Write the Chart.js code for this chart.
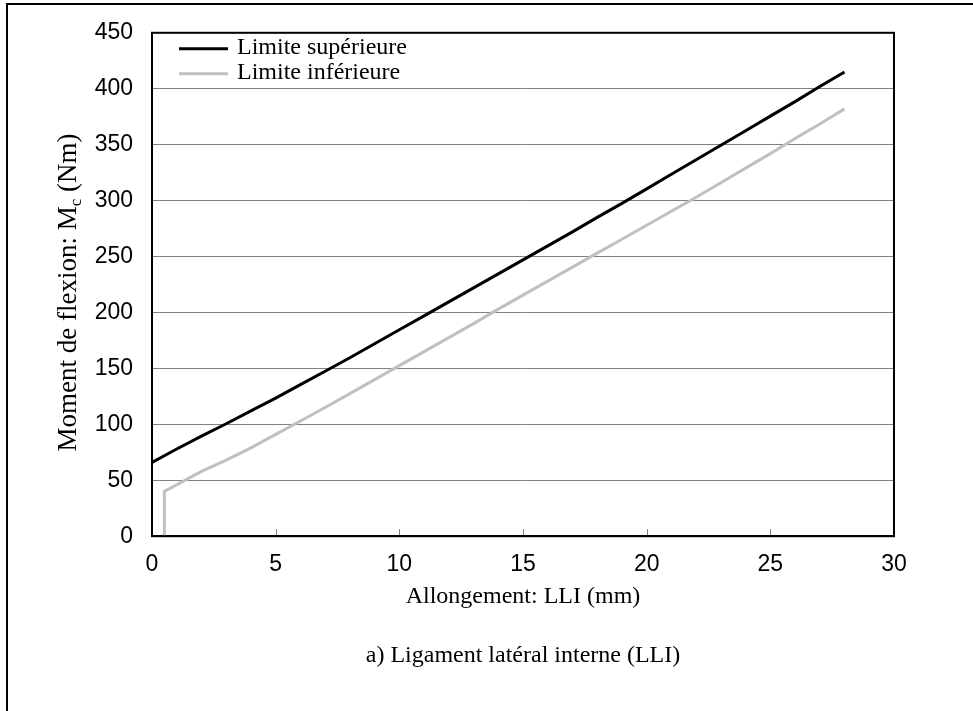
<!DOCTYPE html>
<html>
<head>
<meta charset="utf-8">
<script src="https://cdn.jsdelivr.net/npm/chart.js"></script>
<style>
  html, body { margin: 0; padding: 0; background: #fff; overflow: hidden; }
  #wrap { position: relative; width: 973px; height: 711px; overflow: hidden; }
  #frame { position: absolute; left: 6px; top: 3px; width: 2000px; height: 2000px; border: 2px solid #000; box-sizing: border-box; }
  canvas { position: absolute; left: 0; top: 0; }
</style>
</head>
<body>
<div id="wrap">
  <div id="frame"></div>
  <canvas id="chart" width="973" height="711"></canvas>
</div>
<script>
// values
const upperX = [0, 1, 2, 3, 4, 5, 6, 7, 8, 9, 10, 11, 12, 13, 14, 15, 16, 17, 18, 19, 20, 21, 22, 23, 24, 25, 26, 27, 28];
const upperY = [66, 78, 89.5, 100.5, 112, 123.5, 135.5, 147.5, 159.5, 172, 184.5, 197, 209.5, 222, 234.5, 247, 259.5, 272, 285, 297.5, 310.5, 323.5, 336.5, 349.5, 362.5, 375.5, 388.5, 402, 415];

const lowerX = [0.5, 0.5, 1, 2, 3, 4, 5, 6, 7, 8, 9, 10, 11, 12, 13, 14, 15, 16, 17, 18, 19, 20, 21, 22, 23, 24, 25, 26, 27, 28];
const lowerY = [0, 40, 46, 58, 68, 79, 91, 103, 115, 127.5, 140, 152.5, 165, 177.5, 190, 203, 215.5, 228, 240.5, 253, 265.5, 278, 290.5, 303, 316, 329, 342, 355.5, 368.5, 382];

const seriesNames = ["Limite supérieure", "Limite inférieure"];
const xTickValues = [0, 5, 10, 15, 20, 25, 30];
const yTickValues = [0, 50, 100, 150, 200, 250, 300, 350, 400, 450];

const xTitle = "Allongement: LLI (mm)";
const yTitleParts = ["Moment de flexion: M", "c", " (Nm)"];
const caption = "a) Ligament latéral interne (LLI)";

const SANS = "'Liberation Sans', Arial, sans-serif";
const SERIF = "'Liberation Serif', 'Times New Roman', serif";

const toPoints = (xs, ys) => xs.map((x, i) => ({x: x, y: ys[i]}));

// plot box, inner x ticks, y-axis title (with subscript) and legend
const decorPlugin = {
    id: "decor",
    afterDraw(chart) {
        const {ctx, chartArea: a, scales: {x}} = chart;
        ctx.save();

        ctx.strokeStyle = "#808080";
        ctx.lineWidth = 1;
        x.ticks.forEach((t) => {
            const px = Math.round(x.getPixelForValue(t.value)) + 0.5;
            ctx.beginPath();
            ctx.moveTo(px, a.bottom);
            ctx.lineTo(px, a.bottom - 7);
            ctx.stroke();
        });

        ctx.strokeStyle = "#000";
        ctx.lineWidth = 2;
        ctx.strokeRect(a.left, a.top, a.right - a.left, a.bottom - a.top);

        // y title
        ctx.fillStyle = "#000";
        ctx.translate(76, (a.top + a.bottom) / 2 + 8);
        ctx.rotate(-Math.PI / 2);
        ctx.textBaseline = "alphabetic";
        const big = "27px " + SERIF;
        const small = "17px " + SERIF;
        ctx.font = big;
        const w1 = ctx.measureText(yTitleParts[0]).width;
        const w3 = ctx.measureText(yTitleParts[2]).width;
        ctx.font = small;
        const w2 = ctx.measureText(yTitleParts[1]).width;
        let cx = -(w1 + w2 + w3) / 2;
        ctx.font = big;
        ctx.fillText(yTitleParts[0], cx, 0);
        cx += w1;
        ctx.font = small;
        ctx.fillText(yTitleParts[1], cx, 5);
        cx += w2;
        ctx.font = big;
        ctx.fillText(yTitleParts[2], cx, 0);
        ctx.restore();

        // legend
        ctx.save();
        ctx.font = "24px " + SERIF;
        ctx.textBaseline = "middle";
        ctx.fillStyle = "#000";
        chart.data.datasets.forEach((ds, i) => {
            const cy = a.top + 16 + i * 25;
            ctx.strokeStyle = ds.borderColor;
            ctx.lineWidth = 3;
            ctx.beginPath();
            ctx.moveTo(a.left + 27, cy);
            ctx.lineTo(a.left + 76, cy);
            ctx.stroke();
            ctx.fillText(ds.label, a.left + 85, cy - 1);
        });
        ctx.restore();
    },
};

const ctx = document.getElementById("chart").getContext("2d");

new Chart(ctx, {
    type: "line",
    data: {
        datasets: [
            {
                label: seriesNames[0],
                data: toPoints(upperX, upperY),
                borderColor: "#000000",
                borderWidth: 3,
                pointRadius: 0,
                tension: 0,
                fill: false,
            },
            {
                label: seriesNames[1],
                data: toPoints(lowerX, lowerY),
                borderColor: "#c0c0c0",
                borderWidth: 3,
                pointRadius: 0,
                tension: 0,
                fill: false,
            },
        ],
    },
    options: {
        responsive: false,
        animation: false,
        events: [],
        layout: {padding: {left: 0, right: 79, top: 31, bottom: 0}},
        plugins: {
            legend: {display: false},
            tooltip: {enabled: false},
            title: {
                display: true,
                position: "bottom",
                fullSize: false,
                text: caption,
                color: "#000",
                font: {family: SERIF, size: 24, weight: "normal", lineHeight: 1.2},
                padding: {top: 0, bottom: 41},
            },
        },
        scales: {
            x: {
                type: "linear",
                min: 0,
                max: 30,
                afterBuildTicks: (s) => {
                    s.ticks = xTickValues.map((v) => ({value: v}));
                },
                afterFit: (s) => {
                    s.height = 105;
                },
                grid: {drawOnChartArea: false, drawTicks: false},
                border: {color: "#000", width: 2},
                ticks: {color: "#000", font: {family: SANS, size: 23}, padding: 15, maxRotation: 0},
                title: {
                    display: true,
                    text: xTitle,
                    color: "#000",
                    font: {family: SERIF, size: 24, lineHeight: 1.2},
                    padding: {top: 0, bottom: 30},
                },
            },
            y: {
                min: 0,
                max: 450,
                afterBuildTicks: (s) => {
                    s.ticks = yTickValues.map((v) => ({value: v}));
                },
                afterFit: (s) => {
                    s.width = 152;
                },
                grid: {color: "#808080", lineWidth: 1, drawTicks: false},
                border: {color: "#000", width: 2},
                ticks: {color: "#000", font: {family: SANS, size: 23}, padding: 19},
            },
        },
    },
    plugins: [decorPlugin],
});
</script>
</body>
</html>
